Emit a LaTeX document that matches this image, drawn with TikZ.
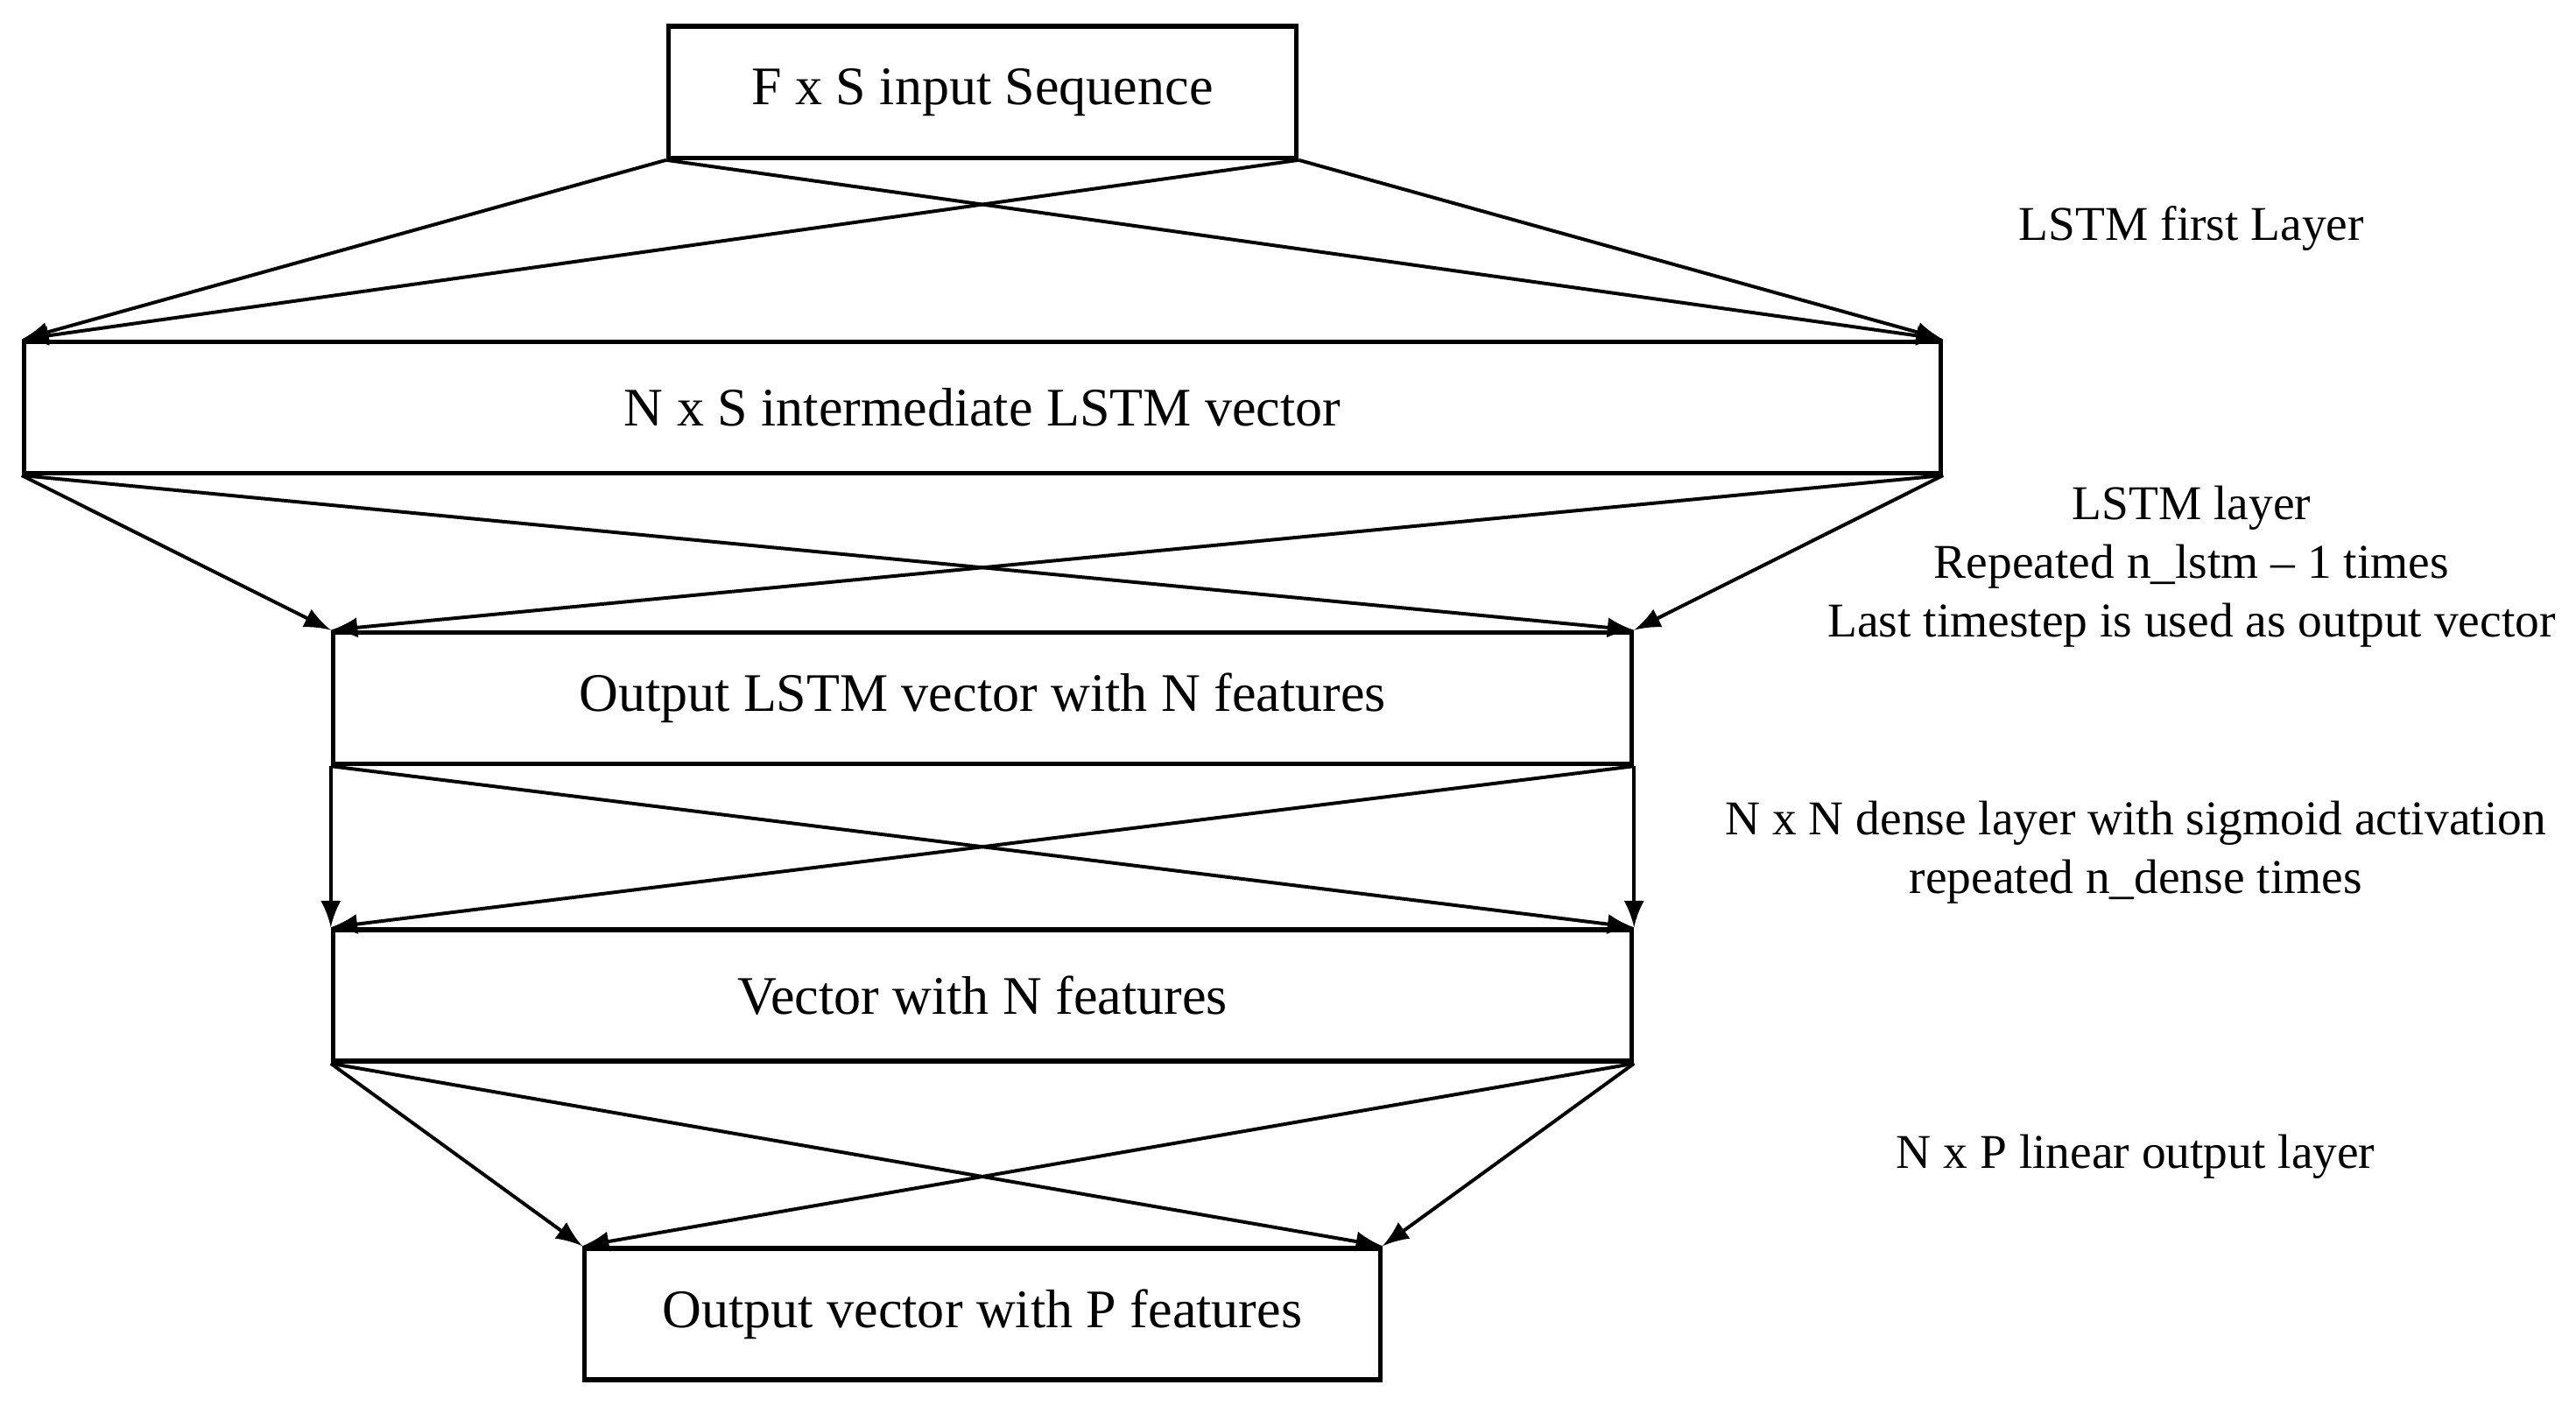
\documentclass[tikz,border=0pt]{standalone}
\usepackage{fontspec}
\setmainfont{Liberation Serif}
\begin{document}
\begin{tikzpicture}[x=0.01cm,y=-0.01cm,font=\fontsize{8.4}{10.2}\selectfont]
	\tikzset{layer box/.style={draw,thick,inner sep=0pt,minimum height=0.8cm,font=\fontsize{9.4}{11}\selectfont},
		link/.style={->,>=latex,semithick},
		side note/.style={align=center}}
	\useasboundingbox (0,0) rectangle (1568,860);
	\node [layer box,minimum width=3.82cm]	(In)	at (598,56)		{F x S input Sequence};
	\node [layer box,minimum width=11.66cm]	(Mid)	at (598,248)	{N x S intermediate LSTM vector};
	\node [layer box,minimum width=7.9cm]	(Lout)	at (598,425)	{Output LSTM vector with N features};
	\node [layer box,minimum width=7.9cm]	(Vec)	at (598,606)	{Vector with N features};
	\node [layer box,minimum width=4.84cm]	(Out)	at (598,800)	{Output vector with P features};
	% connections between consecutive layers
	\foreach \a/\b in {In/Mid,Mid/Lout,Lout/Vec,Vec/Out}{
		\draw [link] (\a.south west) -- (\b.north west);
		\draw [link] (\a.south west) -- (\b.north east);
		\draw [link] (\a.south east) -- (\b.north west);
		\draw [link] (\a.south east) -- (\b.north east);
	}
	\node [side note]	(n1)	at (1334,139)	{LSTM first Layer};
	\node [side note]	(n2)	at (1334,345)	{LSTM layer\\Repeated n\_lstm -- 1 times\\Last timestep is used as output vector};
	\node [side note]	(n3)	at (1300,519)	{N x N dense layer with sigmoid activation\\repeated n\_dense times};
	\node [side note]	(n4)	at (1300,704)	{N x P linear output layer};
\end{tikzpicture}
\end{document}
